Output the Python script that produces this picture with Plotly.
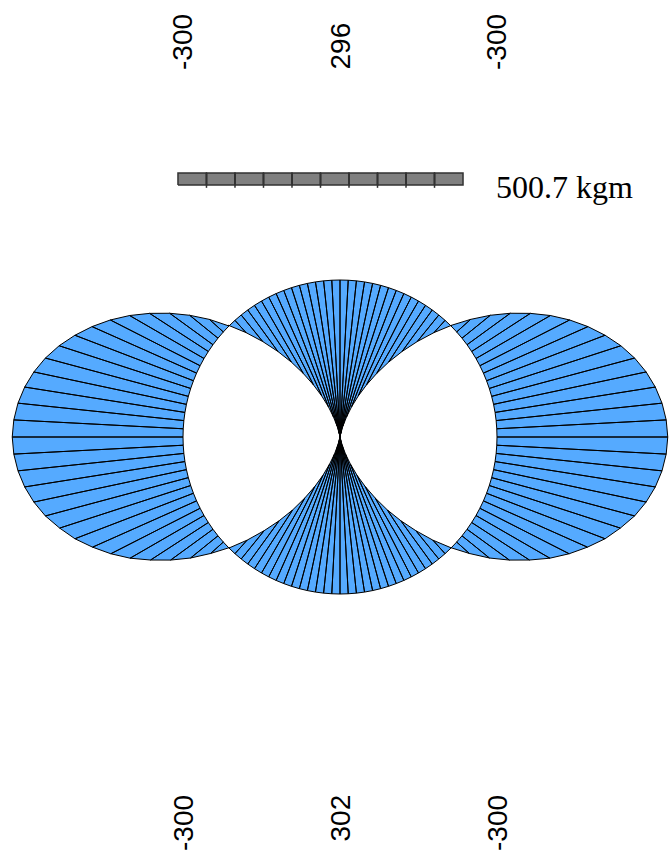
import numpy as np
import plotly.graph_objects as go

# Bending moment in a circular ring (kgm), sampled every 3 degrees.
# Angles measured counter-clockwise from the right-hand side of the ring.
ANGLES_DEG = list(range(0, 361, 3))

# upper half: 0 .. 180 deg
MOMENT_UPPER = [
    -300, -298, -293, -285, -274, -260, -243, -223, -201, -177,
    -151, -123, -94, -64, -33, -2, 29, 60, 90, 119,
    147, 173, 197, 219, 239, 256, 270, 281, 290, 294,
    296,
    294, 290, 281, 270, 256, 239, 219, 197, 173, 147,
    119, 90, 60, 29, -2, -33, -64, -94, -123, -151,
    -177, -201, -223, -243, -260, -274, -285, -293, -298, -300,
]
# lower half: 183 .. 360 deg
MOMENT_LOWER = [
    -298, -293, -285, -274, -260, -242, -223, -200, -176,
    -150, -121, -92, -62, -30, 1, 32, 64, 94, 123,
    152, 178, 202, 225, 244, 262, 276, 287, 295, 300,
    302,
    300, 295, 287, 276, 262, 244, 225, 202, 178, 152,
    123, 94, 64, 32, 1, -30, -62, -92, -121, -150,
    -176, -200, -223, -242, -260, -274, -285, -293, -298, -300,
]
MOMENTS = MOMENT_UPPER + MOMENT_LOWER

RING_RADIUS = 1.0
DIAGRAM_SCALE = 0.003626          # drawing length per kgm
SCALE_BAR_KGM = 500.7
SCALE_BAR_DIVISIONS = 10

TOP_LABELS = ["-300", "296", "-300"]
BOTTOM_LABELS = ["-300", "302", "-300"]
LABEL_X = [-1.0, 0.0, 1.0]

FILL = "rgb(85,170,255)"
SERIF = "Liberation Serif, Times New Roman, serif"
SANS = "Liberation Sans, Arial, sans-serif"

theta = np.radians(ANGLES_DEG)
m = np.array(MOMENTS, dtype=float)
nx, ny = np.cos(theta), np.sin(theta)
ring_x, ring_y = RING_RADIUS * nx, RING_RADIUS * ny
# negative moment is plotted outward, positive inward
off = -m * DIAGRAM_SCALE
dia_x, dia_y = ring_x + off * nx, ring_y + off * ny

px, py = [], []
for i in range(len(theta) - 1):
    px += [ring_x[i], ring_x[i + 1], dia_x[i + 1], dia_x[i], ring_x[i], None]
    py += [ring_y[i], ring_y[i + 1], dia_y[i + 1], dia_y[i], ring_y[i], None]

fig = go.Figure()
fig.add_trace(go.Scatter(
    x=px, y=py, mode="lines", fill="toself", fillcolor=FILL,
    line=dict(color="black", width=1), hoverinfo="skip", showlegend=False,
))

# scale bar
bar_len = SCALE_BAR_KGM * DIAGRAM_SCALE
bar_x0, bar_y0, bar_h = -1.032, 1.605, 0.077
step = bar_len / SCALE_BAR_DIVISIONS
bx, by = [], []
for k in range(SCALE_BAR_DIVISIONS):
    a, b = bar_x0 + k * step, bar_x0 + (k + 1) * step
    bx += [a, b, b, a, a, None]
    by += [bar_y0, bar_y0, bar_y0 + bar_h, bar_y0 + bar_h, bar_y0, None]
fig.add_trace(go.Scatter(
    x=bx, y=by, mode="lines", fill="toself", fillcolor="rgb(128,128,128)",
    line=dict(color="rgb(50,50,50)", width=1.5), hoverinfo="skip", showlegend=False,
))
tx, ty = [], []
for k in range(1, SCALE_BAR_DIVISIONS):
    xk = bar_x0 + k * step
    tx += [xk, xk, None]
    ty += [bar_y0 - 0.018, bar_y0 + bar_h, None]
fig.add_trace(go.Scatter(
    x=tx, y=ty, mode="lines", line=dict(color="rgb(50,50,50)", width=1.5),
    hoverinfo="skip", showlegend=False,
))

annotations = [dict(
    x=bar_x0 + bar_len + 0.2, y=bar_y0 + bar_h / 2 - 0.05,
    text=f"{SCALE_BAR_KGM} kgm", showarrow=False, xanchor="left", yanchor="middle",
    font=dict(family=SERIF, size=32, color="black"),
)]
for xv, t in zip(LABEL_X, TOP_LABELS):
    annotations.append(dict(
        x=xv, y=2.325, text=t, textangle=-90, showarrow=False,
        xanchor="center", yanchor="bottom",
        font=dict(family=SANS, size=28, color="black"),
    ))
for xv, t in zip(LABEL_X, BOTTOM_LABELS):
    annotations.append(dict(
        x=xv, y=-2.2675, text=t, textangle=-90, showarrow=False,
        xanchor="center", yanchor="top",
        font=dict(family=SANS, size=28, color="black"),
    ))

fig.update_layout(
    width=670, height=852, margin=dict(l=0, r=0, t=0, b=0),
    paper_bgcolor="white", plot_bgcolor="white",
    xaxis=dict(range=[-340 / 157, 330 / 157], visible=False, fixedrange=True),
    yaxis=dict(range=[-415 / 157, 437 / 157], visible=False, fixedrange=True),
    annotations=annotations,
)
fig.write_html("out.html")
